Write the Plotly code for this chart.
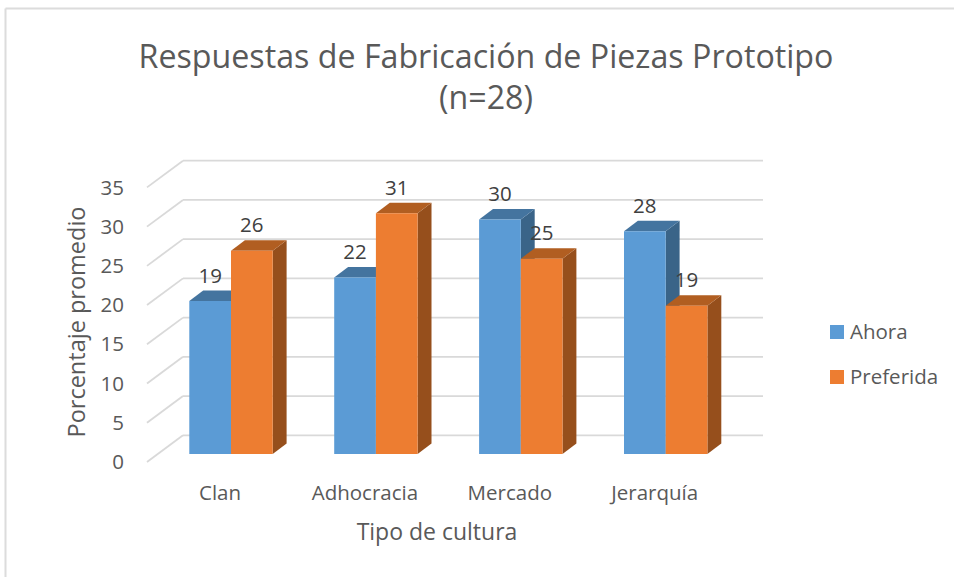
import plotly.graph_objects as go

categories = ["Clan", "Adhocracia", "Mercado", "Jerarquía"]
ahora = [19.5, 22.5, 29.9, 28.4]
preferida = [25.9, 30.7, 24.9, 18.9]
ahora_labels = ["19", "22", "30", "28"]
preferida_labels = ["26", "31", "25", "19"]
y_ticks = [0, 5, 10, 15, 20, 25, 30, 35]

W, H = 954, 577
L, R, T, B = 125, 749, 166, 478      # plot box in page pixels
X0, X_STEP = 231.0, 144.9            # page x of the first group centre, group spacing
Y0, Y_UNIT = 454.0, 7.846            # page y of value 0 on the bars' front, px per unit

x_range = [(L - X0) / X_STEP, (R - X0) / X_STEP]
y_range = [(Y0 - B) / Y_UNIT, (Y0 - T) / Y_UNIT]

BAR_W = 41.7 / X_STEP
DX = 13.9 / X_STEP                   # bar depth
DY = 10.5 / Y_UNIT
WALL_X = [147, 183, 763]             # page x of the receding gridline's corners
WALL_FRONT = -8.0 / Y_UNIT
WALL_BACK = 18.7 / Y_UNIT

GRID = "#d9d9d9"
TEXT = "#595959"
BLUE, BLUE_TOP, BLUE_SIDE = "#5b9bd5", "#44749f", "#3a6488"
ORANGE, ORANGE_TOP, ORANGE_SIDE = "#ed7d31", "#b15e21", "#964f1c"
FONT = "Open Sans"


def px(x):
    return (x - L) / (R - L)


def py(y):
    return (B - y) / (B - T)


def value_y(v):
    # paper coordinate of a value on the y axis, valid outside the plot box too
    return (v - y_range[0]) / (y_range[1] - y_range[0])


fig = go.Figure()


def add_depth(values, sign, top_color, side_color):
    for i, v in enumerate(values):
        x0 = i + sign * BAR_W if sign < 0 else i
        x1 = x0 + BAR_W
        fig.add_trace(go.Scatter(
            x=[x1, x1 + DX, x1 + DX, x1, x1], y=[0, DY, v + DY, v, 0],
            mode="lines", fill="toself", fillcolor=side_color,
            line=dict(width=0, color=side_color), showlegend=False, hoverinfo="skip"))
        fig.add_trace(go.Scatter(
            x=[x0, x0 + DX, x1 + DX, x1, x0], y=[v, v + DY, v + DY, v, v],
            mode="lines", fill="toself", fillcolor=top_color,
            line=dict(width=0, color=top_color), showlegend=False, hoverinfo="skip"))


add_depth(ahora, -1, BLUE_TOP, BLUE_SIDE)
add_depth(preferida, 1, ORANGE_TOP, ORANGE_SIDE)

# front faces on an overlaying subplot, so they hide the depth faces behind them
positions = list(range(len(categories)))
fig.add_trace(go.Bar(x=[p - BAR_W / 2 for p in positions], y=ahora, width=BAR_W, name="Ahora",
                     marker=dict(color=BLUE, line=dict(width=0)), xaxis="x2", yaxis="y2"))
fig.add_trace(go.Bar(x=[p + BAR_W / 2 for p in positions], y=preferida, width=BAR_W, name="Preferida",
                     marker=dict(color=ORANGE, line=dict(width=0)), xaxis="x2", yaxis="y2"))

LABEL_UP = 23.5 / Y_UNIT
fig.add_trace(go.Scatter(
    x=[p - BAR_W / 2 for p in positions] + [p + BAR_W / 2 for p in positions],
    y=[v + LABEL_UP for v in ahora] + [v + LABEL_UP for v in preferida],
    text=ahora_labels + preferida_labels, mode="text", textposition="middle center",
    textfont=dict(family=FONT, size=20.5, color="#404040"), cliponaxis=False,
    xaxis="x2", yaxis="y2", showlegend=False, hoverinfo="skip"))

shapes = [
    dict(type="line", xref="paper", yref="paper", x0=px(5.5), x1=px(W), y0=py(8.5), y1=py(8.5),
         line=dict(color="#dcdcdc", width=2)),
    dict(type="line", xref="paper", yref="paper", x0=px(5.5), x1=px(5.5), y0=py(8.5), y1=py(H),
         line=dict(color="#dcdcdc", width=2)),
]
# receding gridlines on the wall and floor, below the traces
for v in y_ticks:
    shapes.append(dict(type="line", xref="paper", yref="paper", layer="below",
                       x0=px(WALL_X[0]), x1=px(WALL_X[1]),
                       y0=value_y(v + WALL_FRONT), y1=value_y(v + WALL_BACK),
                       line=dict(color=GRID, width=1.8)))
    shapes.append(dict(type="line", xref="paper", yref="paper", layer="below",
                       x0=px(WALL_X[1]), x1=px(WALL_X[2]),
                       y0=value_y(v + WALL_BACK), y1=value_y(v + WALL_BACK),
                       line=dict(color=GRID, width=1.8)))
annotations = []
for name, color, cy in [("Ahora", BLUE, 332), ("Preferida", ORANGE, 377)]:
    shapes.append(dict(type="rect", xref="paper", yref="paper", x0=px(830), x1=px(844),
                       y0=py(cy - 7), y1=py(cy + 7), fillcolor=color, line=dict(width=0)))
    annotations.append(dict(text=name, xref="paper", yref="paper", x=px(847.5), y=py(cy - 1),
                            xanchor="left", yanchor="middle", showarrow=False,
                            font=dict(family=FONT, size=20.5, color=TEXT)))

fig.update_layout(
    width=W, height=H, margin=dict(l=L, r=W - R, t=T, b=H - B),
    paper_bgcolor="white", plot_bgcolor="rgba(0,0,0,0)",
    barmode="overlay", showlegend=False, shapes=shapes, annotations=annotations,
    font=dict(family=FONT, color=TEXT),
    title=dict(text="Respuestas de Fabricación de Piezas Prototipo<br>(n=28)",
               x=486 / W, xanchor="center", y=1 - 67.5 / H, yanchor="top",
               font=dict(family=FONT, size=32.2, color=TEXT)),
    xaxis=dict(range=x_range, showgrid=False, zeroline=False, showline=False, ticks="",
               tickvals=[p - 11 / X_STEP for p in positions], ticktext=categories,
               tickfont=dict(family=FONT, size=20.5, color=TEXT),
               title=dict(text="Tipo de cultura", font=dict(family=FONT, size=23, color=TEXT), standoff=19)),
    yaxis=dict(range=y_range, showgrid=False, zeroline=False, showline=False, ticks="",
               tickvals=[v + WALL_FRONT for v in y_ticks], ticktext=[str(v) for v in y_ticks],
               tickfont=dict(family=FONT, size=20.5, color=TEXT),
               title=dict(text="Porcentaje promedio", font=dict(family=FONT, size=23.5, color=TEXT), standoff=8)),
    xaxis2=dict(range=x_range, overlaying="x", visible=False),
    yaxis2=dict(range=y_range, overlaying="y", visible=False),
)

fig.write_html("out.html", post_script="document.body.style.margin='0';",
               config=dict(displayModeBar=False))
